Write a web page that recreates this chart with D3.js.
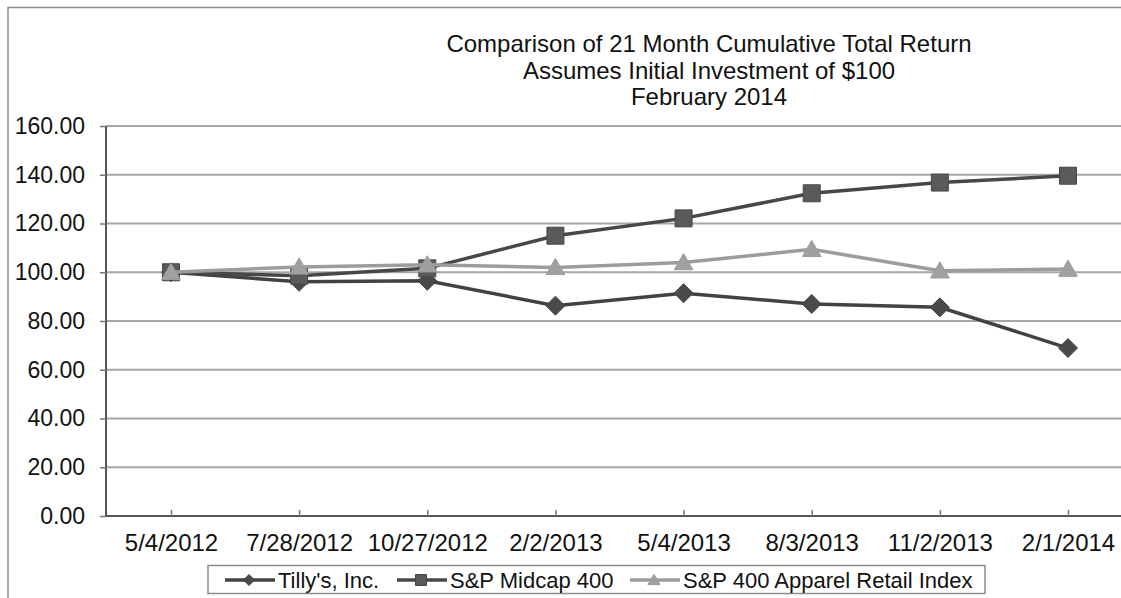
<!DOCTYPE html>
<html>
<head>
<meta charset="utf-8">
<script src="https://cdn.jsdelivr.net/npm/d3@7"></script>
<style>
  body { margin: 0; background: #fff; }
  svg { display: block; font-family: "Liberation Sans", Arial, sans-serif; }
</style>
</head>
<body>
<svg width="1121" height="598"></svg>
<script>
(function () {
  'use strict';

  // data
  var dates = ["5/4/2012", "7/28/2012", "10/27/2012", "2/2/2013", "5/4/2013", "8/3/2013", "11/2/2013", "2/1/2014"];
  var tillys = [100.00, 96.1, 96.5, 86.3, 91.4, 87.0, 85.6, 68.9];
  var midcap = [100.00, 98.6, 101.6, 115.0, 122.1, 132.4, 136.8, 139.6];
  var apparel = [100.00, 102.2, 103.1, 102.0, 104.0, 109.4, 100.6, 101.3];
  var yTicks = [0, 20, 40, 60, 80, 100, 120, 140, 160];
  var titleLines = ["Comparison of 21 Month Cumulative Total Return", "Assumes Initial Investment of $100", "February 2014"];

  var series = [
    { name: "Tilly's, Inc.", values: tillys, line: "#424242", fill: "#4a4a4a", shape: "diamond" },
    { name: "S&P Midcap 400", values: midcap, line: "#474747", fill: "#5a5a5a", shape: "square" },
    { name: "S&P 400 Apparel Retail Index", values: apparel, line: "#9c9c9c", fill: "#a0a0a0", shape: "triangle" }
  ];

  var svg = d3.select("svg");

  // outer frame (cropped at right and bottom)
  svg.append("path")
      .attr("d", "M8,598V7.5H1121")
      .attr("fill", "none")
      .attr("stroke", "#8c8c8c")
      .attr("stroke-width", 1.5);

  var plotLeft = 106, plotRight = 1121, plotTop = 126, plotBottom = 516;

  var x = d3.scalePoint().domain(dates).range([171, 1068]);
  var y = d3.scaleLinear().domain([0, 160]).range([plotBottom, plotTop]);

  // title
  svg.append("g").selectAll("text")
    .data(titleLines)
    .enter().append("text")
      .attr("x", 709)
      .attr("y", function(d, i) { return 52 + i * 26.5; })
      .attr("text-anchor", "middle")
      .attr("font-size", 24)
      .attr("fill", "#111")
      .text(function(d) { return d; });

  // gridlines
  svg.append("g").selectAll("line")
    .data(yTicks.filter(function(d) { return d > 0; }))
    .enter().append("line")
      .attr("x1", plotLeft).attr("x2", plotRight)
      .attr("y1", function(d) { return y(d); }).attr("y2", function(d) { return y(d); })
      .attr("stroke", "#a6a6a6")
      .attr("stroke-width", 2);

  // y axis
  var yAxis = svg.append("g")
      .attr("transform", "translate(" + plotLeft + ",0)")
      .call(d3.axisLeft(y).tickValues(yTicks).tickSize(6).tickPadding(15).tickFormat(d3.format(".2f")));
  yAxis.select(".domain").attr("stroke", "#555").attr("stroke-width", 2).attr("d", "M0," + plotTop + "V" + plotBottom);
  yAxis.selectAll(".tick line").attr("stroke", "#777").attr("stroke-width", 1.5);
  yAxis.selectAll("text").attr("font-size", 23).attr("fill", "#111").attr("font-family", "Liberation Sans, Arial, sans-serif");

  // x axis
  var xAxis = svg.append("g")
      .attr("transform", "translate(0," + plotBottom + ")")
      .call(d3.axisBottom(x).tickSizeInner(-6).tickSizeOuter(0).tickPadding(18));
  xAxis.select(".domain").attr("stroke", "#555").attr("stroke-width", 2).attr("d", "M" + plotLeft + ",0H" + plotRight);
  xAxis.selectAll(".tick line").attr("stroke", "#777").attr("stroke-width", 1.5);
  xAxis.selectAll("text").attr("font-size", 24).attr("fill", "#111").attr("font-family", "Liberation Sans, Arial, sans-serif");

  function markerPath(shape, s) {
    if (shape === "diamond") return "M0," + (-s) + "L" + s + ",0L0," + s + "L" + (-s) + ",0Z";
    if (shape === "square") return "M" + (-s) + "," + (-s) + "H" + s + "V" + s + "H" + (-s) + "Z";
    return "M0," + (-s * 1.05) + "L" + (s * 1.1) + "," + (s * 0.85) + "H" + (-s * 1.1) + "Z";
  }

  var line = d3.line()
      .x(function(d, i) { return x(dates[i]); })
      .y(function(d) { return y(d); });

  var sg = svg.append("g").selectAll("g")
    .data(series)
    .enter().append("g");

  sg.append("path")
      .attr("d", function(d) { return line(d.values); })
      .attr("fill", "none")
      .attr("stroke", function(d) { return d.line; })
      .attr("stroke-width", 3.5);

  sg.each(function(s) {
    var size = s.shape === "diamond" ? 9.5 : 8.5;
    d3.select(this).selectAll(".mark")
      .data(s.values)
      .enter().append("path")
        .attr("class", "mark")
        .attr("transform", function(d, i) { return "translate(" + x(dates[i]) + "," + y(d) + ")"; })
        .attr("d", markerPath(s.shape, size))
        .attr("fill", s.fill)
        .attr("stroke", s.line)
        .attr("stroke-width", 1);
  });

  // legend
  var legend = svg.append("g");
  legend.append("rect")
      .attr("x", 208).attr("y", 565.5)
      .attr("width", 777).attr("height", 28)
      .attr("fill", "#fff")
      .attr("stroke", "#8c8c8c")
      .attr("stroke-width", 1.5);

  var legendX = [225, 397, 630];
  var item = legend.selectAll(".item")
    .data(series)
    .enter().append("g")
      .attr("class", "item")
      .attr("transform", function(d, i) { return "translate(" + legendX[i] + ",580)"; });

  item.append("line")
      .attr("x1", 0).attr("x2", 50)
      .attr("stroke", function(d) { return d.line; })
      .attr("stroke-width", 3.5);
  item.append("path")
      .attr("transform", "translate(24,0)")
      .attr("d", function(d) { return markerPath(d.shape, 5.5); })
      .attr("fill", function(d) { return d.fill; })
      .attr("stroke", function(d) { return d.line; });
  item.append("text")
      .attr("x", 53)
      .attr("y", 8)
      .attr("font-size", 22)
      .attr("fill", "#111")
      .text(function(d) { return d.name; });
}());
</script>
</body>
</html>
